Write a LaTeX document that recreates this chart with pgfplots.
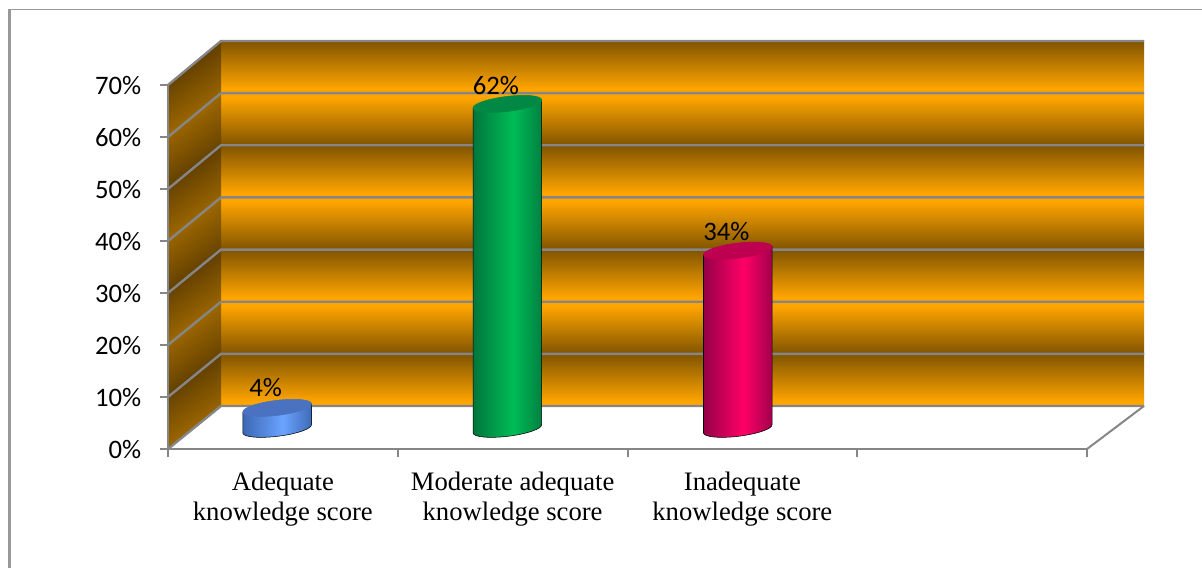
\documentclass[border=0pt]{standalone}
\usepackage{pgfplots}
\pgfplotsset{compat=1.18}
\usepackage{fontspec}
\setmainfont{Carlito}
\newfontfamily\catserif{Liberation Serif}

\definecolor{wallbright}{RGB}{255,165,0}
\definecolor{walldark}{RGB}{128,84,0}
\definecolor{sidebright}{RGB}{176,116,0}
\definecolor{sidedark}{RGB}{80,51,0}
\definecolor{rulegray}{RGB}{134,134,134}

\definecolor{blueedgeL}{RGB}{60,104,180}
\definecolor{bluemid}{RGB}{106,163,255}
\definecolor{blueedgeR}{RGB}{62,106,182}
\definecolor{bluetop}{RGB}{74,114,192}
\definecolor{greenedgeL}{RGB}{0,118,60}
\definecolor{greenmid}{RGB}{0,188,86}
\definecolor{greenedgeR}{RGB}{0,128,64}
\definecolor{greentop}{RGB}{0,136,68}
\definecolor{rededgeL}{RGB}{150,0,72}
\definecolor{redmid}{RGB}{255,0,102}
\definecolor{rededgeR}{RGB}{160,0,76}
\definecolor{redtop}{RGB}{190,0,80}

\pgfdeclarehorizontalshading{cylblue}{100bp}{color(0bp)=(blueedgeL); color(25bp)=(blueedgeL); color(54bp)=(bluemid); color(75bp)=(blueedgeR); color(100bp)=(blueedgeR)}
\pgfdeclarehorizontalshading{cylgreen}{100bp}{color(0bp)=(greenedgeL); color(25bp)=(greenedgeL); color(54bp)=(greenmid); color(75bp)=(greenedgeR); color(100bp)=(greenedgeR)}
\pgfdeclarehorizontalshading{cylred}{100bp}{color(0bp)=(rededgeL); color(25bp)=(rededgeL); color(54bp)=(redmid); color(75bp)=(rededgeR); color(100bp)=(rededgeR)}

% wall bands: the bright end stays flat for a little before falling off
\pgfdeclareverticalshading{brighttop}{100bp}{color(0bp)=(walldark); color(25bp)=(walldark); color(71bp)=(wallbright); color(100bp)=(wallbright)}
\pgfdeclareverticalshading{brightbottom}{100bp}{color(0bp)=(wallbright); color(29bp)=(wallbright); color(75bp)=(walldark); color(100bp)=(walldark)}

% A tilted cylinder standing on the middle of the floor; the origin of the mark
% is the value's point on the front plane, its height comes from \barvalue.
\newcommand\declarecylinder[3]{%
  \pgfdeclareplotmark{#1}{%
    \begin{scope}[x=0.75pt,y=0.75pt]
      \pgfmathsetmacro\cyltopy{20.2+0.04*\barvalue}
      \pgfmathsetmacro\cylbot{20.2-5.2*\barvalue}
      % body, closed below by the lower half of the base ellipse
      \shade[shading=#2]
        (-34.3,-4.2+\cyltopy) -- (34.3,4.2+\cyltopy) -- (34.3,4.2+\cylbot)
        .. controls (34.8,0.09+\cylbot) and (19.85,-5.12+\cylbot) .. (0.91,-7.44+\cylbot)
        .. controls (-18.03,-9.76+\cylbot) and (-33.8,-8.31+\cylbot) .. (-34.3,-4.2+\cylbot)
        -- cycle;
      % lid
      \fill[#3]
        (34.3,4.2+\cyltopy)
        .. controls (34.8,0.09+\cyltopy) and (19.85,-5.12+\cyltopy) .. (0.91,-7.44+\cyltopy)
        .. controls (-18.03,-9.76+\cyltopy) and (-33.8,-8.31+\cyltopy) .. (-34.3,-4.2+\cyltopy)
        .. controls (-34.8,-0.09+\cyltopy) and (-19.85,5.12+\cyltopy) .. (-0.91,7.44+\cyltopy)
        .. controls (18.03,9.76+\cyltopy) and (33.8,8.31+\cyltopy) .. (34.3,4.2+\cyltopy)
        -- cycle;
    \end{scope}%
  }%
}
\declarecylinder{cyl blue}{cylblue}{bluetop}
\declarecylinder{cyl green}{cylgreen}{greentop}
\declarecylinder{cyl red}{cylred}{redtop}

\pgfplotsset{
  cylinder series/.style={
    only marks, scatter, mark=#1,
    visualization depends on={rawy \as \barvalue},
    nodes near coords={\pgfmathprintnumber{\pgfplotspointmeta}\%},
    nodes near coords style={font=\fontsize{20}{22}\selectfont,text=black,
      anchor=center,xshift=-8.6pt,yshift=30.5pt},
  },
}

\begin{document}
\begin{tikzpicture}
  \path[use as bounding box] (0,0) rectangle (901.5pt,426pt);

  % walls in a top-left based system of 0.75pt units
  \begin{scope}[x=0.75pt,y=-0.75pt,yshift=426pt]
  % outer frame: only its left and top edges show
  \draw[rulegray!85,line width=1.6pt] (9.5,568) -- (9.5,9.5);
  \draw[rulegray!85,line width=1.2pt] (9,9.5) -- (1202,9.5);

  % back wall, bands reflected at every gridline
  \foreach \ya/\yb/\band in {
      41/93.14/brightbottom,
      93.14/145.29/brighttop,
      145.29/197.43/brightbottom,
      197.43/249.57/brighttop,
      249.57/301.71/brightbottom,
      301.71/353.86/brighttop,
      353.86/406/brightbottom}{
    \shade[shading=\band] (221,\ya) rectangle (1144,\yb);
  }

  % side wall, same bands seen at an angle
  \foreach \ya/\yb/\fa/\fb/\ca/\cb in {
      41/93.14/85/137/sidedark/sidebright,
      93.14/145.29/137/189/sidebright/sidedark,
      145.29/197.43/189/241/sidedark/sidebright,
      197.43/249.57/241/293/sidebright/sidedark,
      249.57/301.71/293/345/sidedark/sidebright,
      301.71/353.86/345/397/sidebright/sidedark,
      353.86/406/397/449/sidedark/sidebright}{
    \shade[top color=\ca,bottom color=\cb,shading angle=35]
      (168,\fa) -- (221,\ya) -- (221,\yb) -- (168,\fb) -- cycle;
  }

  % gridlines across both walls
  \foreach \ya/\fa in {41/85,93.14/137,145.29/189,197.43/241,249.57/293,301.71/345,353.86/397,406/449}{
    \draw[rulegray,line width=1.8pt] (168,\fa) -- (221,\ya) -- (1144,\ya);
  }
  % floor edge on the right
  \draw[rulegray,line width=1.5pt] (1144,406) -- (1087,449);
  \end{scope}

  \begin{axis}[
      at={(126pt,89.25pt)},anchor=south west,
      scale only axis,width=689.25pt,height=273pt,
      xmin=0,xmax=4,ymin=0,ymax=70,clip=false,
      point meta min=0,point meta max=70,
      axis x line*=bottom,axis y line*=left,
      axis line style={-,draw=rulegray,line width=1.8pt},
      tick align=outside,
      major tick length=6pt,minor tick length=6pt,
      tick style={draw=rulegray,line width=1.5pt},
      major x tick style={draw=none},
      minor x tick style={draw=rulegray,line width=1.5pt},
      xtick={0.5,1.5,2.5},
      minor xtick={0,1,2,3,4},
      xticklabels={Adequate\\knowledge score,Moderate adequate\\knowledge score,Inadequate\\knowledge score},
      xticklabel style={font=\catserif\fontsize{20}{22.5}\selectfont,align=center,yshift=-7.6pt},
      ytick={0,10,...,70},
      yticklabel={\pgfmathprintnumber{\tick}\%},
      yticklabel style={font=\fontsize{20}{22}\selectfont,xshift=-10.5pt,yshift=-0.2pt},
      /pgf/number format/assume math mode=true,
    ]
    \addplot[cylinder series=cyl blue] table[row sep=\\] {x y\\ 0.475 4\\};
    \addplot[cylinder series=cyl green] table[row sep=\\] {x y\\ 1.477 62\\};
    \addplot[cylinder series=cyl red] table[row sep=\\] {x y\\ 2.48 34\\};
  \end{axis}
\end{tikzpicture}
\end{document}
